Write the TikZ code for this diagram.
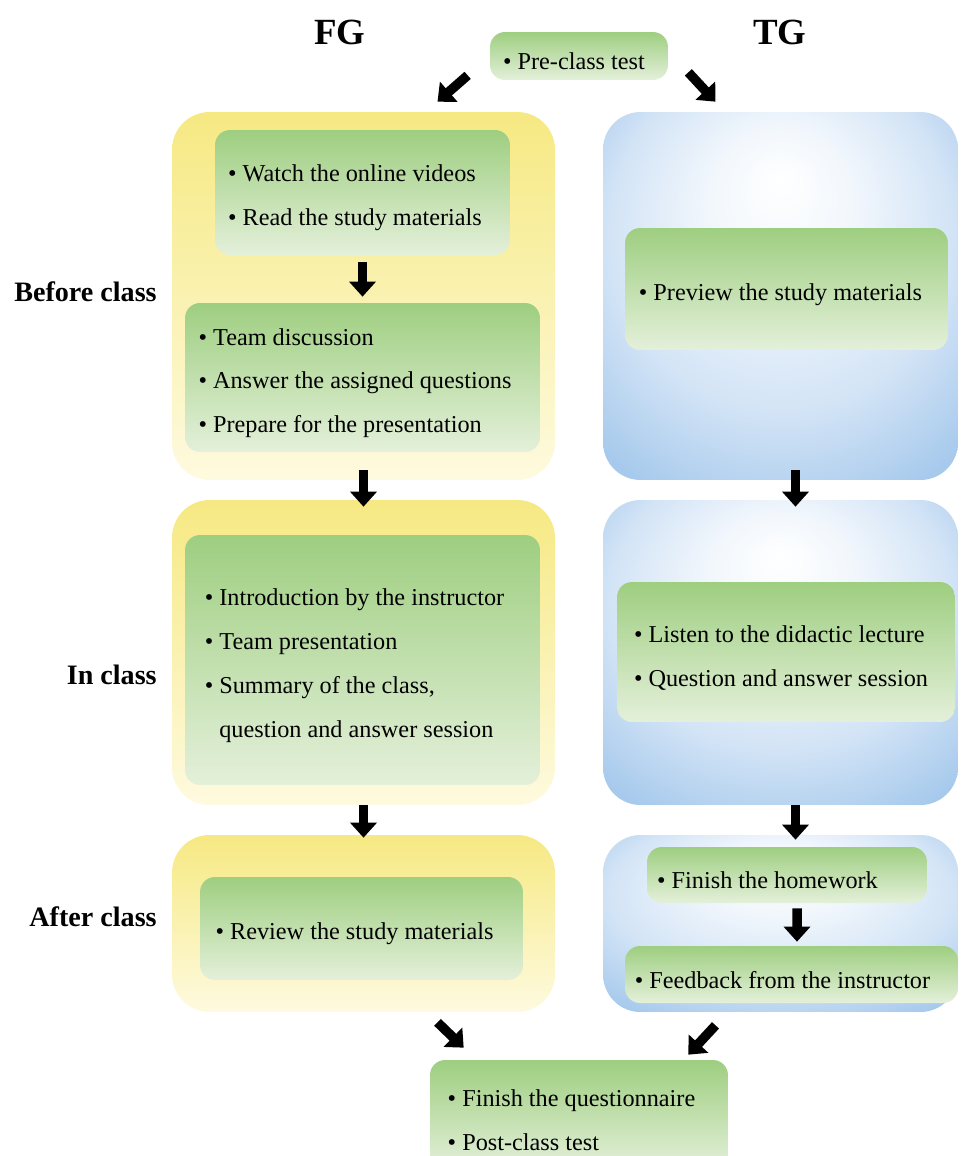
\documentclass[tikz,border=0pt]{standalone}
\usepackage{fontspec}
\setmainfont{Liberation Serif}
\usepackage{tikz}
\usetikzlibrary{positioning, arrows.meta}

\definecolor{grnTop}{HTML}{9ECE80}
\definecolor{grnBot}{HTML}{E4F0DA}
\definecolor{ylwTop}{HTML}{F6E983}
\definecolor{ylwBot}{HTML}{FEFADF}
\definecolor{bluEdge}{HTML}{A6C9EC}
\definecolor{bluMid}{HTML}{D3E4F6}
\pgfdeclareradialshading{tgshade}{\pgfpoint{0bp}{16bp}}{color(0bp)=(white); color(10bp)=(white!70!bluMid); color(24bp)=(bluMid); color(36bp)=(bluEdge); color(50bp)=(bluEdge)}
% bullet with a strut, so the lines sit a little lower in the box
\newcommand{\bitem}{\rule{0pt}{16pt}\textbullet\ }
% empty space after a line, pushes the text block to the left
\newcommand{\tailpad}[1]{\rule{#1}{0pt}}

\begin{document}
\begin{tikzpicture}[x=0.02cm, y=-0.02cm,
        bigfg/.style={rounded corners=0.75cm, minimum width=7.66cm, top color=ylwTop, bottom color=ylwBot},
        bigtg/.style={rounded corners=0.75cm, minimum width=7.1cm, shading=tgshade},
        itembox/.style={rounded corners=0.3cm, top color=grnTop, bottom color=grnBot, align=left, inner sep=0pt, font=\fontsize{13.8}{25}\selectfont},
        grouplabel/.style={font=\fontsize{21}{25}\selectfont\bfseries},
        phaselabel/.style={anchor=east, inner sep=0pt, font=\fontsize{16}{20}\selectfont\bfseries},
        fat/.style={line width=0.19cm, -{Triangle[width=0.52cm, length=0.3cm]}},
    ]
        \useasboundingbox (0,0) rectangle (960,1156);

        \node[grouplabel] (fg) at (340,32) {FG};
        \node[grouplabel] (tg) at (780,32) {TG};

        \node[phaselabel] (before) at (157,292) {Before class};
        \node[phaselabel] (inclass) at (157,675) {In class};
        \node[phaselabel] (after) at (157,917) {After class};

        \node[bigfg, minimum height=7.36cm] (fgbefore) at (363.5,296) {};
        \node[bigfg, minimum height=6.1cm] (fgin) at (363.5,652.5) {};
        \node[bigfg, minimum height=3.54cm] (fgafter) at (363.5,923.5) {};
        \node[bigtg, minimum height=7.36cm] (tgbefore) at (780.5,296) {};
        \node[bigtg, minimum height=6.1cm] (tgin) at (780.5,652.5) {};
        \node[bigtg, minimum height=3.54cm] (tgafter) at (780.5,923.5) {};

        \node[itembox, minimum width=3.56cm, minimum height=0.96cm] (pre) at (579,56) {\bitem Pre-class test\tailpad{0.2cm}};
        \node[itembox, minimum width=5.9cm, minimum height=2.5cm] (watch) at (362.5,192.5) {\bitem Watch the online videos\\ \bitem Read the study materials\tailpad{0.3cm}};
        \node[itembox, minimum width=7.1cm, minimum height=2.98cm] (team) at (362.5,377.5) {\bitem Team discussion\\ \bitem Answer the assigned questions\tailpad{0.3cm}\\ \bitem Prepare for the presentation};
        \node[itembox, minimum width=7.1cm, minimum height=5cm] (intro) at (362.5,660) {\bitem Introduction by the instructor\tailpad{0.32cm}\\ \bitem Team presentation\\ \bitem Summary of the class,\\ \hphantom{\textbullet\ }question and answer session};
        \node[itembox, minimum width=6.46cm, minimum height=2.06cm] (review) at (361.5,928.5) {\bitem Review the study materials\tailpad{0.28cm}};
        \node[itembox, minimum width=6.46cm, minimum height=2.44cm] (preview) at (786.5,289) {\bitem Preview the study materials\tailpad{0.24cm}};
        \node[itembox, minimum width=6.76cm, minimum height=2.8cm] (listen) at (786,652) {\bitem Listen to the didactic lecture\\ \bitem Question and answer session\tailpad{0.2cm}};
        \node[itembox, minimum width=5.6cm, minimum height=1.12cm] (homework) at (787,875) {\bitem Finish the homework\tailpad{0.78cm}};
        \node[itembox, minimum width=6.66cm, minimum height=1.14cm] (feedback) at (791.5,974.5) {\bitem Feedback from the instructor\tailpad{0.36cm}};
        \node[itembox, minimum width=5.96cm, minimum height=2.2cm] (quest) at (579,1115) {\bitem Finish the questionnaire\tailpad{0.3cm}\\ \bitem Post-class test};

        % FG column
        \draw[fat] ([shift={(-22,-5)}]pre.south west) -- ([shift={(74,-10)}]fgbefore.north);
        \draw[fat, shorten <=0.14cm, shorten >=0.12cm] (watch) -- (team);
        \draw[fat, shorten <=-0.2cm, shorten >=-0.14cm] (fgbefore) -- (fgin);
        \draw[fat, shorten >=-0.06cm] (fgin) -- (fgafter);
        \draw[fat] ([shift={(74,10)}]fgafter.south) -- ([shift={(34,-12)}]quest.north west);

        % TG column
        \draw[fat] ([shift={(20,-8)}]pre.south east) -- ([shift={(-65,-10)}]tgbefore.north);
        \draw[fat, shorten <=-0.2cm, shorten >=-0.14cm] ([xshift=0.3cm]tgbefore.south) -- ([xshift=0.3cm]tgin.north);
        \draw[fat, shorten >=-0.1cm] ([xshift=0.3cm]tgin.south) -- ([xshift=0.3cm]tgafter.north);
        \draw[fat, shorten <=0.1cm, shorten >=0.08cm] ([xshift=0.2cm]homework.south) -- ([xshift=0.11cm]feedback.north);
        \draw[fat] ([shift={(-65,13)}]tgafter.south) -- ([shift={(-40,-5)}]quest.north east);
    \end{tikzpicture}
\end{document}
